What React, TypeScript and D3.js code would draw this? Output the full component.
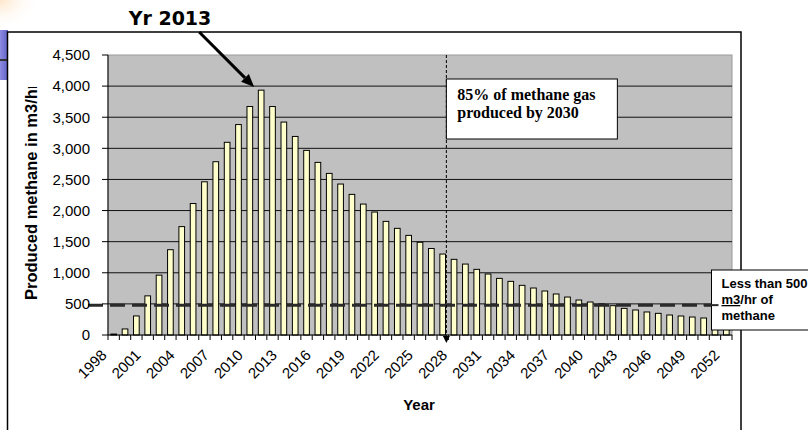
import React from "react";
import * as d3 from "d3";

// Annual methane production forecast, m3/hr
const years: string[] = d3.range(1998, 2053).map(String);
const methane: number[] = [
  15, 97, 306, 629, 962, 1371, 1742, 2113, 2462, 2785,
  3097, 3382, 3672, 3935, 3672, 3422, 3191, 2967, 2774, 2597,
  2426, 2260, 2104, 1976, 1826, 1714, 1601, 1490, 1390, 1301,
  1216, 1140, 1055, 980, 910, 862, 798, 755, 707, 659,
  610, 562, 530, 498, 471, 428, 402, 370, 348, 321,
  305, 289, 273, 258, 244,
];
const yTicks: number[] = [0, 500, 1000, 1500, 2000, 2500, 3000, 3500, 4000, 4500];
const labelEvery = 3;

const threshold = 480;
const cutoffYear = "2028";
const peakYearText = "Yr 2013";

const W = 808;
const H = 430;
const plot = { left: 108, right: 732, top: 55, bottom: 335 };

const SANS = "'Liberation Sans', Arial, sans-serif";
const SERIF = "'Liberation Serif', 'Times New Roman', serif";
const VERDANA = "'DejaVu Sans', Verdana, sans-serif";

export default function App() {
  const x = d3.scaleBand<string>().domain(years).range([plot.left, plot.right]).paddingInner(0).paddingOuter(0);
  const y = d3.scaleLinear().domain([0, 4500]).range([plot.bottom, plot.top]);
  const bw = x.bandwidth();
  const barW = bw * 0.5;
  const fmt = d3.format(",");

  const cutX = (x(cutoffYear) as number) - 2;
  const thrY = y(threshold);

  // arrow pointing at the peak bar
  const peakIdx = methane.indexOf(d3.max(methane) as number);
  const peakX = (x(years[peakIdx]) as number) + bw / 2;
  const tip = { x: peakX - 7, y: y(4000) + 1 };
  const tail = { x: tip.x - 55, y: 32 };
  const ang = Math.atan2(tip.y - tail.y, tip.x - tail.x);
  const headLen = 13;
  const headW = 5.5;
  const hb = { x: tip.x - headLen * Math.cos(ang), y: tip.y - headLen * Math.sin(ang) };
  const head = [
    [tip.x, tip.y],
    [hb.x + headW * Math.sin(ang), hb.y - headW * Math.cos(ang)],
    [hb.x - headW * Math.sin(ang), hb.y + headW * Math.cos(ang)],
  ];

  const ticksBetween = d3.range(years.length + 1).map((i) => plot.left + i * bw);

  const noteBox = { x: cutX, y: 79, w: 171, h: 60 };
  const limitBox = { x: 711.5, y: 270, w: 110, h: 60 };

  return (
    <svg width={W} height={H} style={{ position: "absolute", left: 0, top: 0, display: "block", background: "#fff" }}>
      <defs>
        <linearGradient id="slideBlue" x1="0" y1="0" x2="1" y2="0">
          <stop offset="0" stopColor="#8c8ce0" />
          <stop offset="1" stopColor="#6060c8" />
        </linearGradient>
        <radialGradient id="peach" cx="0" cy="0" r="1">
          <stop offset="0" stopColor="#fde6c8" />
          <stop offset="1" stopColor="#fff" stopOpacity="0" />
        </radialGradient>
        <clipPath id="yTitleClip">
          <rect x={0} y={87} width={100} height={300} />
        </clipPath>
      </defs>

      {/* slide backdrop peeking out at the left */}
      <rect x={0} y={0} width={40} height={30} fill="url(#peach)" />
      <rect x={0} y={30} width={8} height={50} fill="url(#slideBlue)" />
      <rect x={0} y={59} width={8} height={2} fill="#333" />

      {/* chart frame */}
      <rect x={7.5} y={32} width={733.5} height={H} fill="#fff" stroke="#000" strokeWidth={1.5} />

      {/* plot area */}
      <rect x={plot.left} y={plot.top} width={plot.right - plot.left} height={plot.bottom - plot.top} fill="#c0c0c0" stroke="#999" strokeWidth={1} />

      {yTicks.slice(1, -1).map((t) => (
        <line key={t} x1={plot.left} x2={plot.right} y1={y(t)} y2={y(t)} stroke="#111" strokeWidth={1} />
      ))}

      {/* bars */}
      {methane.map((v, i) => {
        const cx = (x(years[i]) as number) + bw / 2;
        return (
          <rect
            key={years[i]}
            x={cx - barW / 2}
            y={y(v)}
            width={barW}
            height={plot.bottom - y(v)}
            fill="#ffffcc"
            stroke="#000"
            strokeWidth={1}
          />
        );
      })}

      {/* 500 m3/hr threshold */}
      <line x1={plot.left - 20} x2={limitBox.x + 7} y1={thrY} y2={thrY} stroke="#2a2a2a" strokeWidth={3} strokeDasharray="15 7" />

      {/* y axis */}
      <line x1={plot.left} x2={plot.left} y1={plot.top} y2={plot.bottom} stroke="#000" />
      {yTicks.map((t) => (
        <g key={t}>
          <line x1={plot.left - 6} x2={plot.left} y1={y(t)} y2={y(t)} stroke="#000" />
          <text x={90} y={y(t) + 5.3} textAnchor="end" fontFamily={SANS} fontSize={15} fill="#000">
            {fmt(t)}
          </text>
        </g>
      ))}

      {/* x axis */}
      <line x1={plot.left} x2={plot.right} y1={plot.bottom} y2={plot.bottom} stroke="#000" />
      {ticksBetween.map((tx, i) => (
        <line key={i} x1={tx} x2={tx} y1={plot.bottom} y2={plot.bottom + 5} stroke="#000" />
      ))}
      {years.map((yr, i) =>
        i % labelEvery === 0 ? (
          <text
            key={yr}
            transform={`translate(${(x(yr) as number) + bw / 2 - 6},${plot.bottom + 21}) rotate(-45)`}
            textAnchor="end"
            fontFamily={SANS}
            fontSize={15}
            fill="#000"
          >
            {yr}
          </text>
        ) : null
      )}

      <text x={419} y={410} textAnchor="middle" fontFamily={SANS} fontSize={15} fontWeight="bold">
        Year
      </text>
      <g clipPath="url(#yTitleClip)">
        <text
          transform={`translate(37,300) rotate(-90)`}
          textAnchor="start"
          fontFamily={SANS}
          fontSize={16.5}
          fontWeight="bold"
        >
          Produced methane in m3/hr
        </text>
      </g>

      {/* cutoff marker */}
      <line x1={cutX} x2={cutX} y1={plot.top} y2={plot.bottom + 2} stroke="#000" strokeWidth={1} strokeDasharray="3 2" />
      <path d={`M${cutX - 3.5},${plot.bottom + 1} L${cutX + 3.5},${plot.bottom + 1} L${cutX},${plot.bottom + 8} Z`} fill="#000" />

      <rect x={noteBox.x} y={noteBox.y} width={noteBox.w} height={noteBox.h} fill="#fff" stroke="#000" strokeWidth={1} />
      <text fontFamily={SERIF} fontSize={16} fontWeight="bold" fill="#000">
        <tspan x={noteBox.x + 11} y={noteBox.y + 21}>85% of methane gas</tspan>
        <tspan x={noteBox.x + 11} y={noteBox.y + 39}>produced by 2030</tspan>
      </text>

      <rect x={limitBox.x} y={limitBox.y} width={limitBox.w} height={limitBox.h} fill="#fff" stroke="#000" strokeWidth={1} />
      <line x1={limitBox.x - 8} x2={limitBox.x + 7} y1={thrY} y2={thrY} stroke="#2a2a2a" strokeWidth={2} />
      <text fontFamily={SANS} fontSize={13} fontWeight="bold" fill="#000">
        <tspan x={limitBox.x + 10} y={limitBox.y + 18}>Less than 500</tspan>
        <tspan x={limitBox.x + 10} y={limitBox.y + 34}>
          <tspan textDecoration="underline">m3</tspan>/hr of
        </tspan>
        <tspan x={limitBox.x + 10} y={limitBox.y + 50}>methane</tspan>
      </text>

      {/* peak annotation */}
      <text x={170} y={25} textAnchor="middle" fontFamily={VERDANA} fontSize={19} fontWeight="bold" fill="#000">
        {peakYearText}
      </text>
      <line x1={tail.x} y1={tail.y} x2={hb.x} y2={hb.y} stroke="#000" strokeWidth={3} />
      <path d={`M${head.map((p) => p.join(",")).join("L")}Z`} fill="#000" />
    </svg>
  );
}
